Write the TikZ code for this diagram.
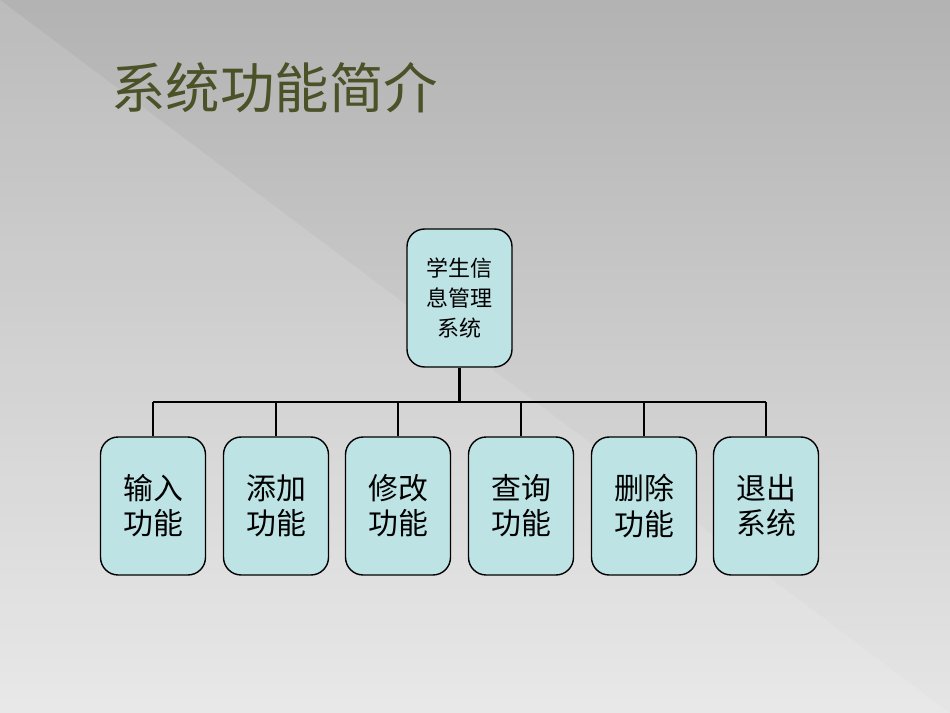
\documentclass[tikz,border=0pt]{standalone}
\usepackage{fontspec}
\newfontfamily\cjk{Noto Sans CJK SC}
\usetikzlibrary{positioning}
\definecolor{boxfill}{HTML}{BEE3E5}
\definecolor{titlecol}{HTML}{4B5228}
\tikzset{my_box/.style={draw, thick, rounded corners=10pt, fill=boxfill, minimum width=2.1cm, minimum height=2.76cm, align=center, font=\cjk\fontsize{17}{20}\selectfont}}
\tikzset{my_link/.style={very thick}}

\begin{document}
\begin{tikzpicture}[x=0.02cm,y=-0.02cm]
    \useasboundingbox (0,0) rectangle (950,713);
    \shade[top color=gray!60, bottom color=gray!20] (0,0) rectangle (950,713);
    \fill[white, opacity=0.12] (0,0) -- (0,713) -- (950,713) -- cycle;
    \node[text=titlecol, font=\cjk\fontsize{31}{36}\selectfont, anchor=west] (title) at (105,88) {系统功能简介};

    \node[my_box, font=\cjk\fontsize{12.5}{17}\selectfont] (root) at (459.5,298) {学生信\\息管理\\系统};
    \foreach \x/\name/\txt in {153/in/{输入\\功能}, 276/add/{添加\\功能}, 398/mod/{修改\\功能},
                               521/qry/{查询\\功能}, 644/del/{删除\\功能}, 766/quit/{退出\\系统}}{
        \node[my_box] (\name) at (\x,506) {\txt};
        \coordinate (bus-\name) at (\x,402);
        \draw[my_link] (\name.north) -- (bus-\name);
    }
    \coordinate (bus-root) at (459.5,402);
    \draw[my_link] (root.south) -- (bus-root);
    \draw[my_link] (bus-in) -- (bus-quit);
\end{tikzpicture}
\end{document}
